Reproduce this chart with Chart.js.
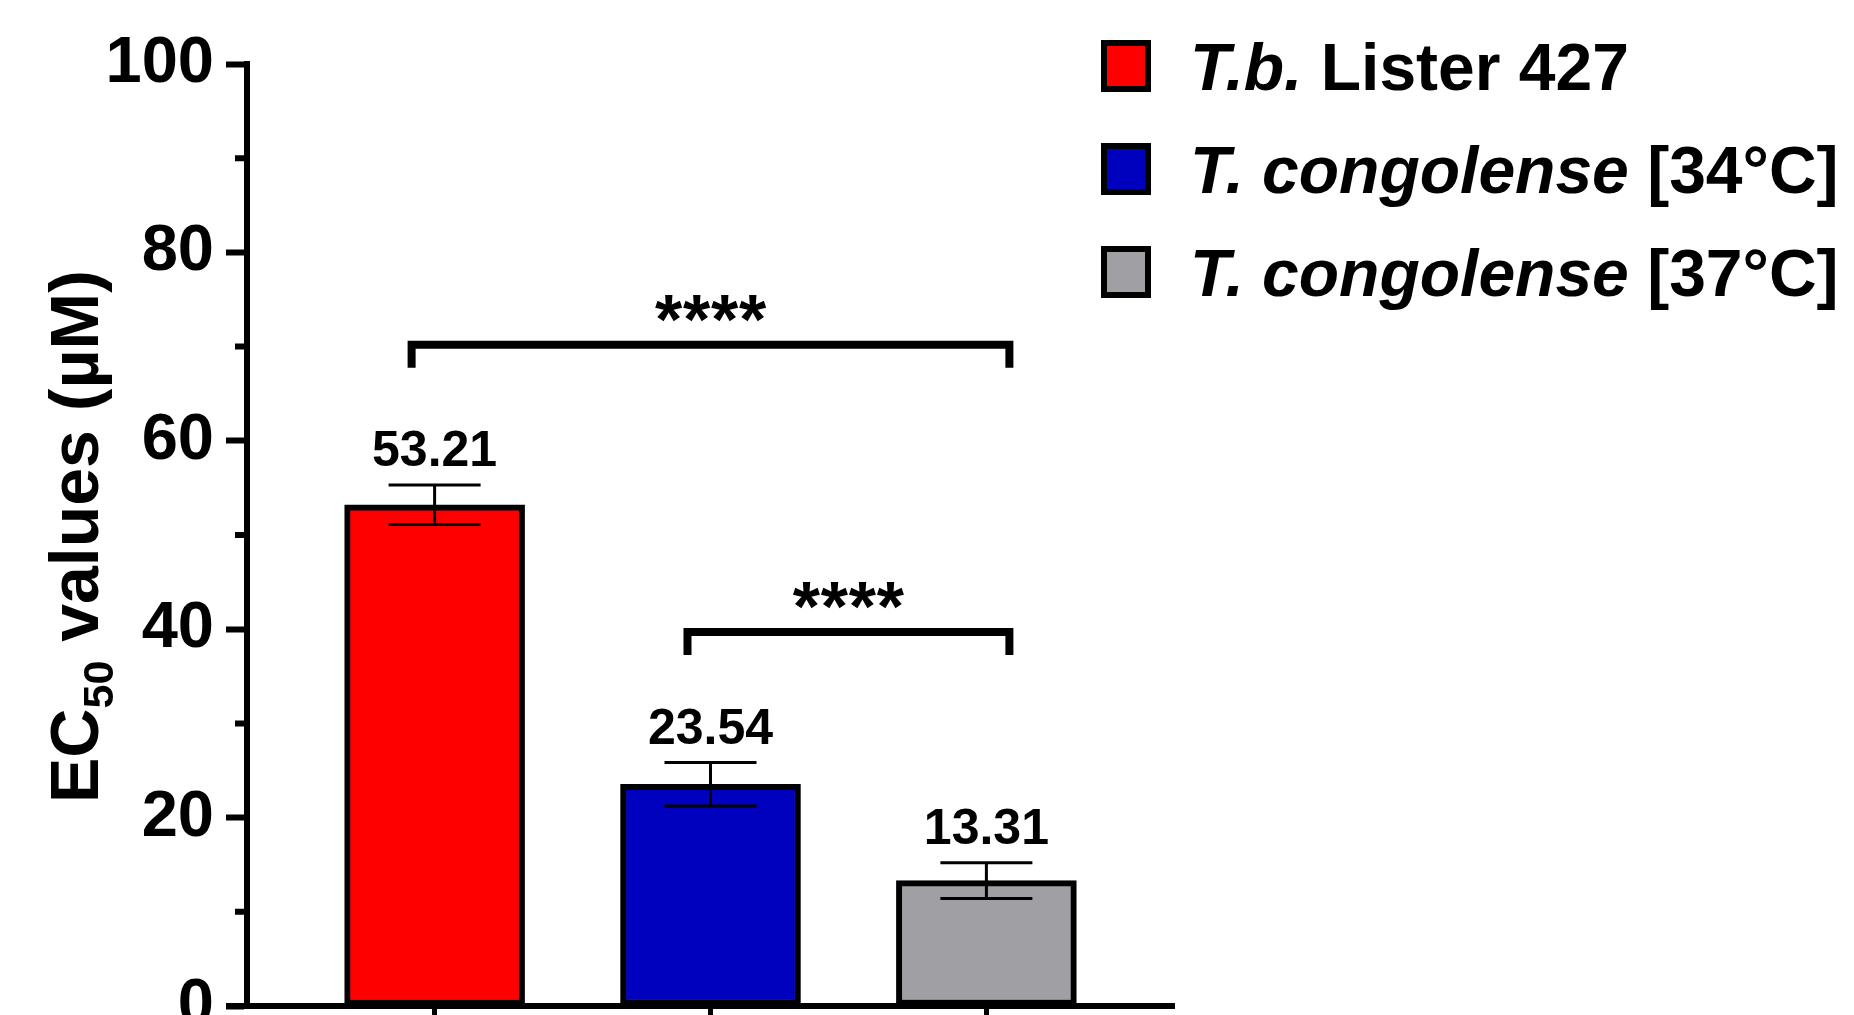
<!DOCTYPE html>
<html>
<head>
<meta charset="utf-8">
<script src="https://cdn.jsdelivr.net/npm/chart.js@4.4.1/dist/chart.umd.min.js"></script>
<style>
  html, body { margin: 0; padding: 0; background: #fff; overflow: hidden; }
  #wrap { width: 1854px; height: 1015px; }
</style>
</head>
<body>
<div id="wrap"><canvas id="chart" width="1854" height="1015"></canvas></div>
<script>
// ── Data ──
const groups = [0, 1, 2];
const ec50 = [53.21, 23.54, 13.31];
const sd = [2.1, 2.3, 1.9];
const barColors = ['#ff0000', '#0000bf', '#a0a0a4'];
const legendItalic = ['T.b.', 'T. congolense', 'T. congolense'];
const legendPlain = [' Lister 427', ' [34°C]', ' [37°C]'];
const yTicks = [0, 20, 40, 60, 80, 100];
const yMinorTicks = [10, 30, 50, 70, 90];
// significance brackets: from group, to group, height (µM), label
const sigFrom = [0, 1];
const sigTo = [2, 2];
const sigLevel = [70.2, 39.7];
const sigLabel = ['****', '****'];

const FONT = "'Liberation Sans', Arial, sans-serif";

// ── Error bars, labels, brackets, legend, axis title ──
const overlayPlugin = {
  id: 'overlay',
  afterDraw(chart) {
    const { ctx, chartArea, scales: { x, y } } = chart;
    ctx.save();
    ctx.strokeStyle = '#000';
    ctx.fillStyle = '#000';

    // minor ticks on y axis + x axis stub left of the y axis
    ctx.lineWidth = 6;
    ctx.beginPath();
    yMinorTicks.forEach(v => {
      const py = y.getPixelForValue(v);
      ctx.moveTo(chartArea.left - 12, py);
      ctx.lineTo(chartArea.left, py);
    });
    const baseY = y.getPixelForValue(0);
    ctx.moveTo(chartArea.left - 21, baseY);
    ctx.lineTo(chartArea.left, baseY);
    ctx.stroke();

    // error bars + value labels
    groups.forEach((g, i) => {
      const cx = x.getPixelForValue(g);
      const top = y.getPixelForValue(ec50[i] + sd[i]);
      const bot = y.getPixelForValue(ec50[i] - sd[i]);
      ctx.lineWidth = 3;
      ctx.beginPath();
      ctx.moveTo(cx, top); ctx.lineTo(cx, bot);
      ctx.moveTo(cx - 46, top); ctx.lineTo(cx + 46, top);
      ctx.moveTo(cx - 46, bot); ctx.lineTo(cx + 46, bot);
      ctx.stroke();

      ctx.font = `bold 50px ${FONT}`;
      ctx.textAlign = 'center';
      ctx.textBaseline = 'alphabetic';
      ctx.fillText(ec50[i].toFixed(2), cx, top - 19);
    });

    // significance brackets
    sigFrom.forEach((from, i) => {
      const x1 = x.getPixelForValue(from) - 23;
      const x2 = x.getPixelForValue(sigTo[i]) + 23;
      const yb = y.getPixelForValue(sigLevel[i]);
      ctx.lineWidth = 8;
      ctx.lineJoin = 'miter';
      ctx.beginPath();
      ctx.moveTo(x1, yb + 23);
      ctx.lineTo(x1, yb);
      ctx.lineTo(x2, yb);
      ctx.lineTo(x2, yb + 23);
      ctx.stroke();

      ctx.font = `bold 70px ${FONT}`;
      ctx.textAlign = 'center';
      const mid = (x1 + x2) / 2;
      const chars = sigLabel[i].split('');
      chars.forEach((c, k) => {
        ctx.fillText(c, mid + (k - (chars.length - 1) / 2) * 28, yb - 1);
      });
    });

    // legend
    barColors.forEach((col, i) => {
      const cy = 66 + i * 103;
      ctx.fillStyle = col;
      ctx.fillRect(1101, cy - 26, 50, 52);
      ctx.lineWidth = 6;
      ctx.strokeRect(1104, cy - 23, 44, 46);

      ctx.fillStyle = '#000';
      ctx.textAlign = 'left';
      ctx.textBaseline = 'alphabetic';
      ctx.font = `italic bold 66px ${FONT}`;
      ctx.fillText(legendItalic[i], 1190, cy + 24);
      const w = ctx.measureText(legendItalic[i]).width;
      ctx.font = `bold 66px ${FONT}`;
      ctx.fillText(legendPlain[i], 1190 + w, cy + 24);
    });

    // y axis title with subscript
    ctx.translate(98, 803);
    ctx.rotate(-Math.PI / 2);
    ctx.textAlign = 'left';
    ctx.font = `bold 68px ${FONT}`;
    ctx.fillText('EC', 0, 0);
    let off = ctx.measureText('EC').width;
    ctx.font = `bold 43px ${FONT}`;
    ctx.fillText('50', off, 15);
    off += ctx.measureText('50').width;
    ctx.font = `bold 68px ${FONT}`;
    ctx.fillText(' values (µM)', off, 0);

    ctx.restore();
  }
};

new Chart(document.getElementById('chart'), {
  type: 'bar',
  data: {
    datasets: [{
      data: groups.map((g, i) => ({ x: g, y: ec50[i] })),
      backgroundColor: barColors,
      borderColor: '#000',
      borderWidth: 6,
      borderSkipped: false,
      barThickness: 180
    }]
  },
  options: {
    responsive: false,
    animation: false,
    layout: { padding: { top: 64, left: 0, right: 680, bottom: 0 } },
    plugins: {
      legend: { display: false },
      tooltip: { enabled: false }
    },
    scales: {
      x: {
        type: 'linear',
        min: -0.68,
        max: 2.68,
        offset: false,
        z: 1,
        afterBuildTicks: s => { s.ticks = groups.map(v => ({ value: v })); },
        afterFit: s => { s.height = 9; s.paddingLeft = 0; s.paddingRight = 0; },
        ticks: { display: false },
        grid: {
          offset: false,
          drawOnChartArea: false,
          drawTicks: true,
          tickLength: 22,
          tickWidth: 5,
          tickColor: '#000'
        },
        border: { display: true, color: '#000', width: 6 }
      },
      y: {
        min: 0,
        max: 100,
        z: 1,
        afterBuildTicks: s => { s.ticks = yTicks.map(v => ({ value: v })); },
        afterFit: s => { s.width = 247; s.paddingTop = 0; s.paddingBottom = 0; },
        ticks: {
          color: '#000',
          padding: 12,
          font: { family: FONT, size: 65, weight: 'bold' }
        },
        grid: {
          drawOnChartArea: false,
          drawTicks: true,
          tickLength: 21,
          tickWidth: 6,
          tickColor: '#000'
        },
        border: { display: true, color: '#000', width: 6 }
      }
    }
  },
  plugins: [overlayPlugin]
});
</script>
</body>
</html>
